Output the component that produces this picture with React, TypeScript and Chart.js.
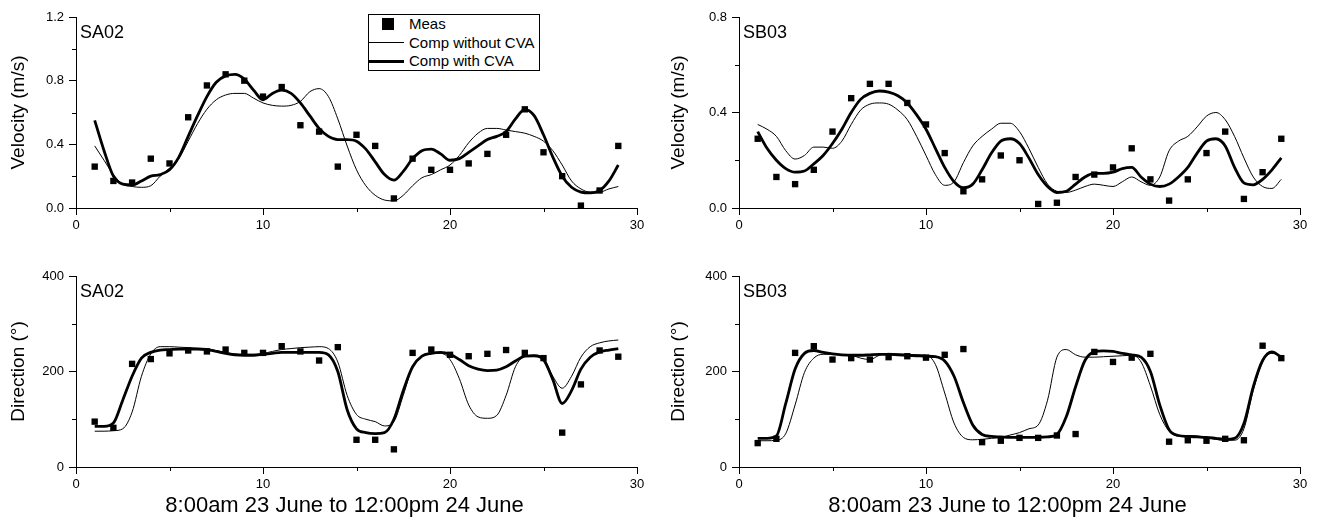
import React, { useEffect, useRef } from 'react';
import { Chart, registerables } from 'chart.js';

Chart.register(...registerables);

const FONT = "'Liberation Sans', Arial, Helvetica, sans-serif";

// Measurement times (hour index)
const hours = [1, 2, 3, 4, 5, 6, 7, 8, 9, 10, 11, 12, 13, 14, 15, 16, 17, 18, 19, 20, 21, 22, 23, 24, 25, 26, 27, 28, 29];

// Sample positions of the computed curves
const curveX = [1, 1.5, 2, 2.5, 3, 3.5, 4, 4.5, 5, 5.5, 6, 6.5, 7, 7.5, 8, 8.5, 9, 9.5, 10, 10.5, 11, 11.5, 12, 12.5, 13, 13.5, 14, 14.5, 15, 15.5, 16, 16.5, 17, 17.5, 18, 18.5, 19, 19.5, 20, 20.5, 21, 21.5, 22, 22.5, 23, 23.5, 24, 24.5, 25, 25.5, 26, 26.5, 27, 27.5, 28, 28.5, 29];

// Tick values
const xTickValues = [0, 10, 20, 30];
const xMinorTicks = [5, 15, 25];
const velTicksSA = [0, 0.4, 0.8, 1.2];
const velMinorSA = [0.2, 0.6, 1.0];
const velTicksSB = [0, 0.4, 0.8];
const velMinorSB = [0.2, 0.6];
const dirTicks = [0, 200, 400];
const dirMinor = [100, 300];

// SA02 velocity (m/s)
const saVelMeas = [0.26, 0.17, 0.16, 0.31, 0.28, 0.57, 0.77, 0.84, 0.80, 0.70, 0.76, 0.52, 0.48, 0.26, 0.46, 0.39, 0.06, 0.31, 0.24, 0.24, 0.28, 0.34, 0.46, 0.62, 0.35, 0.20, 0.015, 0.11, 0.39];
const saVelWithout = [0.39, 0.30, 0.21, 0.15, 0.135, 0.13, 0.14, 0.20, 0.25, 0.31, 0.42, 0.53, 0.62, 0.68, 0.71, 0.72, 0.72, 0.69, 0.66, 0.645, 0.64, 0.645, 0.67, 0.73, 0.75, 0.70, 0.56, 0.39, 0.24, 0.14, 0.08, 0.05, 0.045, 0.08, 0.14, 0.19, 0.21, 0.24, 0.27, 0.33, 0.41, 0.47, 0.50, 0.50, 0.49, 0.48, 0.47, 0.45, 0.42, 0.36, 0.27, 0.17, 0.12, 0.10, 0.10, 0.12, 0.135];
const saVelWith = [0.55, 0.36, 0.20, 0.15, 0.145, 0.17, 0.20, 0.21, 0.24, 0.32, 0.45, 0.58, 0.70, 0.79, 0.83, 0.84, 0.81, 0.74, 0.68, 0.72, 0.74, 0.72, 0.66, 0.58, 0.50, 0.45, 0.43, 0.43, 0.42, 0.37, 0.29, 0.21, 0.175, 0.23, 0.31, 0.36, 0.37, 0.34, 0.30, 0.31, 0.35, 0.39, 0.43, 0.45, 0.48, 0.56, 0.62, 0.58, 0.46, 0.32, 0.20, 0.13, 0.10, 0.095, 0.11, 0.17, 0.27];

// SB03 velocity (m/s)
const sbVelMeas = [0.29, 0.13, 0.10, 0.16, 0.32, 0.46, 0.52, 0.52, 0.44, 0.35, 0.23, 0.07, 0.12, 0.22, 0.20, 0.017, 0.022, 0.13, 0.14, 0.17, 0.25, 0.12, 0.031, 0.12, 0.23, 0.32, 0.038, 0.15, 0.29];
const sbVelWithout = [0.35, 0.33, 0.30, 0.24, 0.205, 0.22, 0.255, 0.255, 0.25, 0.28, 0.35, 0.41, 0.435, 0.44, 0.435, 0.41, 0.37, 0.30, 0.22, 0.14, 0.095, 0.11, 0.19, 0.26, 0.30, 0.33, 0.355, 0.355, 0.32, 0.25, 0.17, 0.10, 0.07, 0.065, 0.075, 0.09, 0.10, 0.095, 0.09, 0.11, 0.13, 0.11, 0.095, 0.13, 0.24, 0.28, 0.30, 0.34, 0.385, 0.40, 0.37, 0.30, 0.21, 0.13, 0.09, 0.082, 0.12];
const sbVelWith = [0.32, 0.25, 0.20, 0.165, 0.15, 0.155, 0.185, 0.22, 0.27, 0.33, 0.40, 0.455, 0.48, 0.49, 0.485, 0.47, 0.44, 0.39, 0.33, 0.25, 0.17, 0.11, 0.085, 0.10, 0.16, 0.23, 0.28, 0.29, 0.27, 0.21, 0.14, 0.09, 0.065, 0.07, 0.10, 0.13, 0.145, 0.145, 0.15, 0.165, 0.17, 0.13, 0.10, 0.09, 0.10, 0.13, 0.17, 0.23, 0.28, 0.29, 0.26, 0.17, 0.105, 0.097, 0.12, 0.16, 0.21];

// SA02 direction (deg)
const saDirMeas = [95, 82, 216, 226, 238, 244, 242, 246, 239, 239, 253, 242, 223, 251, 57, 57, 37, 239, 246, 235, 232, 237, 245, 239, 228, 72, 173, 244, 231];
const saDirWithout = [75, 75, 76, 80, 115, 190, 237, 252, 252, 251, 250, 249, 248, 244, 240, 237, 236, 236, 238, 242, 246, 248, 250, 251, 252, 248, 220, 150, 110, 100, 95, 86, 95, 150, 210, 232, 238, 238, 225, 185, 130, 105, 102, 108, 150, 210, 232, 234, 228, 190, 165, 190, 230, 252, 260, 264, 266];
const saDirWith = [85, 85, 92, 140, 190, 228, 240, 245, 246, 247, 247, 247, 246, 242, 238, 235, 234, 234, 236, 238, 240, 240, 240, 240, 240, 235, 200, 120, 80, 72, 70, 72, 100, 160, 210, 232, 238, 240, 236, 225, 212, 205, 202, 203, 210, 222, 232, 233, 225, 183, 133, 160, 205, 230, 241, 245, 248];

// SB03 direction (deg)
const sbDirMeas = [50, 59, 239, 253, 225, 228, 225, 230, 232, 229, 235, 247, 52, 55, 61, 61, 66, 69, 241, 220, 229, 237, 53, 56, 55, 59, 56, 254, 228];
const sbDirWithout = [55, 55, 56, 70, 130, 198, 228, 236, 236, 235, 234, 228, 225, 234, 238, 237, 236, 235, 234, 215, 155, 92, 62, 57, 58, 60, 62, 67, 72, 80, 88, 140, 230, 246, 235, 230, 230, 231, 232, 233, 234, 220, 170, 110, 75, 65, 66, 65, 62, 58, 56, 56, 80, 160, 220, 238, 232];
const sbDirWith = [60, 60, 65, 133, 205, 238, 244, 240, 237, 235, 234, 234, 235, 236, 236, 235, 234, 233, 232, 231, 222, 190, 135, 88, 68, 64, 63, 62, 62, 62, 62, 63, 68, 105, 168, 223, 241, 243, 242, 238, 235, 230, 200, 130, 78, 66, 64, 63, 62, 60, 58, 60, 91, 168, 223, 241, 230];

const seriesNames = ['Meas', 'Comp without CVA', 'Comp with CVA'];
const xTitleText = '8:00am 23 June to 12:00pm 24 June';

type PanelProps = {
  left: number;
  top: number;
  width: number;
  height: number;
  padTop: number;
  padRight: number;
  yWidth: number;
  xHeight: number;
  yMax: number;
  yTicks: number[];
  yMinor: number[];
  decimals: number;
  yTitle: string;
  station: string;
  meas: number[];
  without: number[];
  withCVA: number[];
  showXTitle: boolean;
};

function Panel(p: PanelProps) {
  const ref = useRef<HTMLCanvasElement | null>(null);
  useEffect(() => {
    const canvas = ref.current;
    if (!canvas) return;
    const decorPlugin = {
      id: 'minorTicksAndStation',
      afterDraw(chart: any) {
        const ctx = chart.ctx;
        const xs = chart.scales.x;
        const ys = chart.scales.y;
        const area = chart.chartArea;
        ctx.save();
        ctx.strokeStyle = '#000';
        ctx.lineWidth = 1;
        ctx.beginPath();
        for (const v of xMinorTicks) {
          const px = Math.round(xs.getPixelForValue(v)) + 0.5;
          ctx.moveTo(px, area.bottom);
          ctx.lineTo(px, area.bottom + 4);
        }
        for (const v of p.yMinor) {
          const py = Math.round(ys.getPixelForValue(v)) + 0.5;
          ctx.moveTo(area.left, py);
          ctx.lineTo(area.left - 4, py);
        }
        ctx.stroke();
        ctx.fillStyle = '#000';
        ctx.font = `18px ${FONT}`;
        ctx.textBaseline = 'alphabetic';
        ctx.textAlign = 'left';
        ctx.fillText(p.station, area.left + 4, area.top + 21);
        if (p.showXTitle) {
          ctx.font = `22px ${FONT}`;
          ctx.textAlign = 'center';
          ctx.textBaseline = 'middle';
          ctx.fillText(xTitleText, (area.left + area.right) / 2 - 12, chart.height - 22);
        }
        ctx.restore();
      },
    };
    const chart = new Chart(canvas, {
      type: 'line',
      data: {
        datasets: [
          {
            label: seriesNames[0],
            data: hours.map((h, i) => ({ x: h, y: p.meas[i] })),
            showLine: false,
            pointStyle: 'rect',
            pointRadius: 4.5,
            pointBorderWidth: 0,
            pointBackgroundColor: '#000',
            pointBorderColor: '#000',
            borderColor: '#000',
            backgroundColor: '#000',
          },
          {
            label: seriesNames[1],
            data: curveX.map((x, i) => ({ x, y: p.without[i] })),
            borderColor: '#000',
            borderWidth: 1,
            pointRadius: 0,
            cubicInterpolationMode: 'monotone',
            fill: false,
          },
          {
            label: seriesNames[2],
            data: curveX.map((x, i) => ({ x, y: p.withCVA[i] })),
            borderColor: '#000',
            borderWidth: 2.8,
            pointRadius: 0,
            cubicInterpolationMode: 'monotone',
            fill: false,
          },
        ],
      } as any,
      options: {
        responsive: false,
        animation: false,
        devicePixelRatio: 1,
        layout: { padding: { left: 0, top: p.padTop, right: p.padRight, bottom: 0 } },
        plugins: { legend: { display: false }, tooltip: { enabled: false } },
        scales: {
          x: {
            type: 'linear',
            min: 0,
            max: 30,
            afterFit: (s: any) => {
              s.height = p.xHeight;
            },
            afterBuildTicks: (s: any) => {
              s.ticks = xTickValues.map((v) => ({ value: v }));
            },
            ticks: {
              color: '#000',
              font: { family: FONT, size: 13 },
              padding: 3,
              maxRotation: 0,
              autoSkip: false,
              callback: (v: any) => String(v),
            },
            grid: { display: true, drawOnChartArea: false, drawTicks: true, tickLength: 7, color: '#000', lineWidth: 1 },
            border: { display: true, color: '#000', width: 1 },
            title: { display: false },
          },
          y: {
            type: 'linear',
            min: 0,
            max: p.yMax,
            afterFit: (s: any) => {
              s.width = p.yWidth;
            },
            afterBuildTicks: (s: any) => {
              s.ticks = p.yTicks.map((v) => ({ value: v }));
            },
            ticks: {
              color: '#000',
              font: { family: FONT, size: 13 },
              padding: 5,
              autoSkip: false,
              callback: (v: any) => Number(v).toFixed(p.decimals),
            },
            grid: { display: true, drawOnChartArea: false, drawTicks: true, tickLength: 7, color: '#000', lineWidth: 1 },
            border: { display: true, color: '#000', width: 1 },
            title: {
              display: true,
              text: p.yTitle,
              color: '#000',
              font: { family: FONT, size: 19 },
              padding: { top: 7.5, bottom: 0 },
            },
          },
        },
      } as any,
      plugins: [decorPlugin],
    });
    return () => chart.destroy();
  }, []);
  return (
    <canvas
      ref={ref}
      width={p.width}
      height={p.height}
      style={{ position: 'absolute', left: p.left, top: p.top, width: p.width, height: p.height }}
    />
  );
}

function Legend() {
  const rowText = (top: number, text: string) => (
    <div style={{ position: 'absolute', left: 40, top, height: 18, lineHeight: '18px', whiteSpace: 'nowrap' }}>{text}</div>
  );
  return (
    <div
      style={{
        position: 'absolute',
        left: 368,
        top: 14,
        width: 172,
        height: 57,
        border: '1px solid #000',
        boxSizing: 'border-box',
        background: '#fff',
        fontFamily: FONT,
        fontSize: 15,
        color: '#000',
      }}
    >
      <div style={{ position: 'absolute', left: 13, top: 3, width: 12, height: 12, background: '#000' }} />
      {rowText(0, seriesNames[0])}
      <div style={{ position: 'absolute', left: 0, top: 27, width: 35, height: 1, background: '#000' }} />
      {rowText(19, seriesNames[1])}
      <div style={{ position: 'absolute', left: 0, top: 45, width: 35, height: 3, background: '#000' }} />
      {rowText(37, seriesNames[2])}
    </div>
  );
}

export default function App() {
  return (
    <div style={{ position: 'absolute', left: 0, top: 0, width: 1320, height: 528, background: '#fff', overflow: 'hidden' }}>
      <Panel
        left={0} top={0} width={660} height={240} padTop={17} padRight={23} yWidth={76} xHeight={32}
        yMax={1.2} yTicks={velTicksSA} yMinor={velMinorSA} decimals={1}
        yTitle="Velocity (m/s)" station="SA02"
        meas={saVelMeas} without={saVelWithout} withCVA={saVelWith} showXTitle={false}
      />
      <Panel
        left={660} top={0} width={660} height={240} padTop={17} padRight={20} yWidth={79} xHeight={32}
        yMax={0.8} yTicks={velTicksSB} yMinor={velMinorSB} decimals={1}
        yTitle="Velocity (m/s)" station="SB03"
        meas={sbVelMeas} without={sbVelWithout} withCVA={sbVelWith} showXTitle={false}
      />
      <Panel
        left={0} top={240} width={660} height={288} padTop={36} padRight={23} yWidth={76} xHeight={61}
        yMax={400} yTicks={dirTicks} yMinor={dirMinor} decimals={0}
        yTitle="Direction (°)" station="SA02"
        meas={saDirMeas} without={saDirWithout} withCVA={saDirWith} showXTitle={true}
      />
      <Panel
        left={660} top={240} width={660} height={288} padTop={36} padRight={20} yWidth={79} xHeight={61}
        yMax={400} yTicks={dirTicks} yMinor={dirMinor} decimals={0}
        yTitle="Direction (°)" station="SB03"
        meas={sbDirMeas} without={sbDirWithout} withCVA={sbDirWith} showXTitle={true}
      />
      <Legend />
    </div>
  );
}
